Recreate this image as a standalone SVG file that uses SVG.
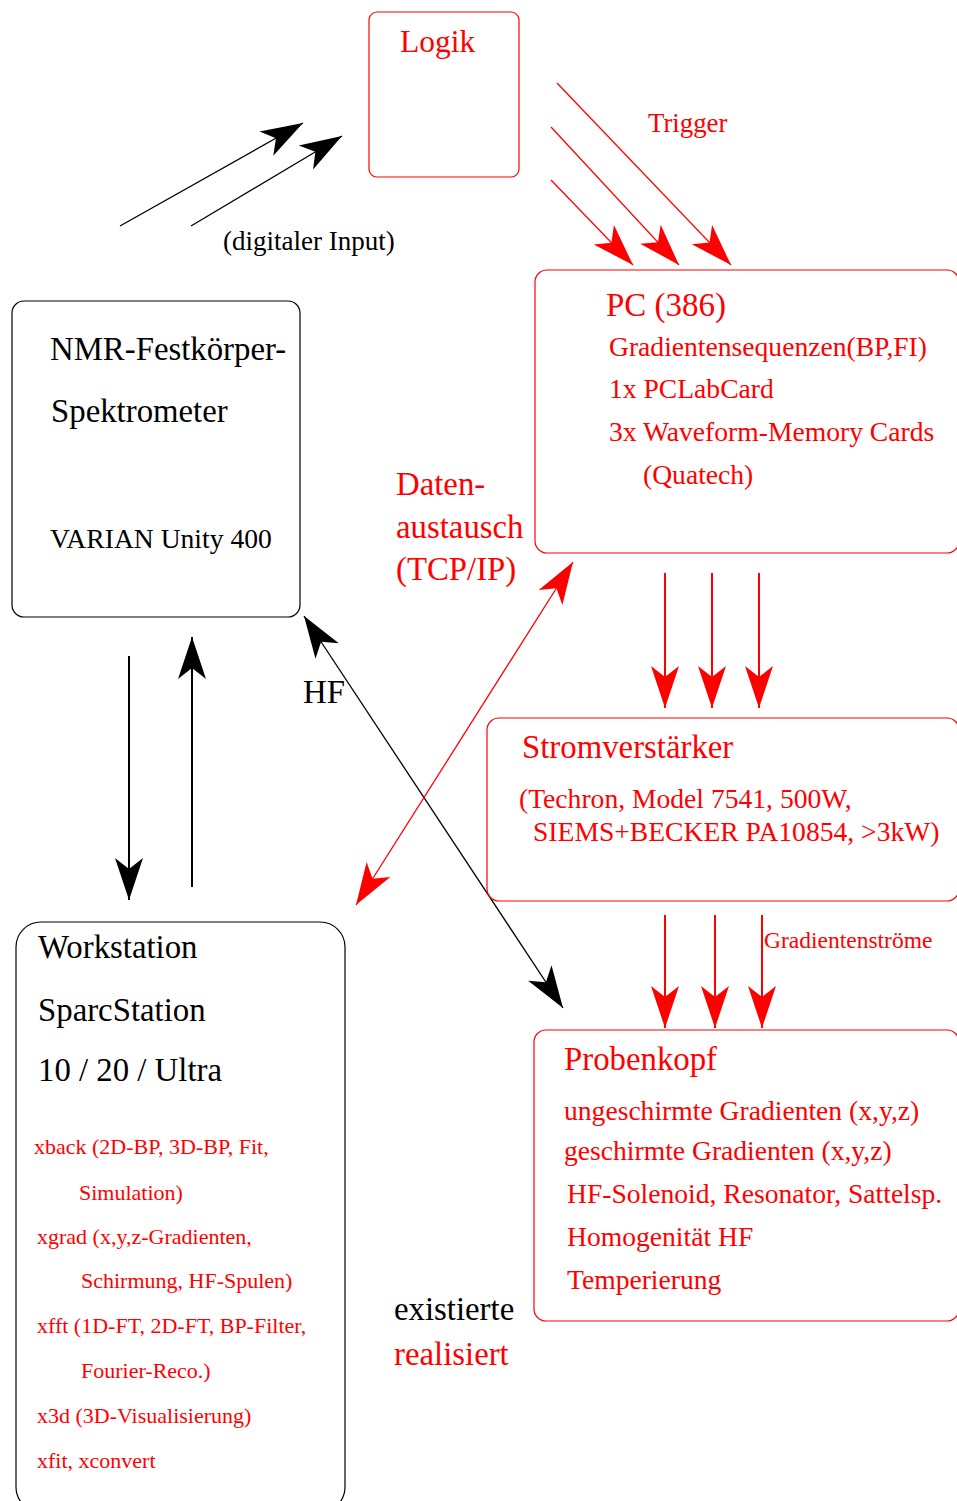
<svg xmlns="http://www.w3.org/2000/svg" width="957" height="1501" viewBox="0 0 957 1501">
<style>
text{font-family:"Liberation Serif","Times New Roman",serif}
.r{fill:#ff0000}
.k{fill:#000}
.t32{font-size:32.8px}
.t27{font-size:27.6px}
.t22{font-size:22px}
.bk{fill:none;stroke:#000;stroke-width:1.2}
.br{fill:none;stroke:#ff0000;stroke-width:1.2}
.lk{stroke:#000;stroke-width:1.3;fill:none}
.lr{stroke:#ff0000;stroke-width:1.3;fill:none}
.vk{stroke:#000;stroke-width:2;fill:none}
.vr{stroke:#ff0000;stroke-width:2;fill:none}
</style>
<defs>
<marker id="ak" markerUnits="userSpaceOnUse" markerWidth="50" markerHeight="40" viewBox="-45 -20 50 40" refX="0" refY="0" orient="auto-start-reverse">
<path d="M0,0 L-42,-14 L-31,0 L-42,14 Z" fill="#000"/>
</marker>
<marker id="ar" markerUnits="userSpaceOnUse" markerWidth="50" markerHeight="40" viewBox="-45 -20 50 40" refX="0" refY="0" orient="auto-start-reverse">
<path d="M0,0 L-42,-14 L-31,0 L-42,14 Z" fill="#ff0000"/>
</marker>
</defs>

<g id="connectors">
<line class="lk" x1="120" y1="226" x2="303" y2="123" marker-end="url(#ak)"/>
<line class="lk" x1="191" y1="226" x2="342" y2="136" marker-end="url(#ak)"/>
<line class="lr" x1="557" y1="83" x2="731" y2="265" marker-end="url(#ar)"/>
<line class="lr" x1="551" y1="127" x2="679" y2="265" marker-end="url(#ar)"/>
<line class="lr" x1="551" y1="180" x2="633" y2="265" marker-end="url(#ar)"/>
<line class="vk" x1="129" y1="656" x2="129" y2="900" marker-end="url(#ak)"/>
<line class="vk" x1="192" y1="887" x2="192" y2="637" marker-end="url(#ak)"/>
<line class="lk" x1="304" y1="616" x2="563" y2="1008" marker-start="url(#ak)" marker-end="url(#ak)"/>
<line class="lr" x1="573" y1="562" x2="356" y2="905" marker-start="url(#ar)" marker-end="url(#ar)"/>
<line class="vr" x1="665" y1="573" x2="665" y2="708" marker-end="url(#ar)"/>
<line class="vr" x1="712" y1="573" x2="712" y2="708" marker-end="url(#ar)"/>
<line class="vr" x1="759" y1="573" x2="759" y2="708" marker-end="url(#ar)"/>
<line class="vr" x1="665" y1="915" x2="665" y2="1028" marker-end="url(#ar)"/>
<line class="vr" x1="715" y1="915" x2="715" y2="1028" marker-end="url(#ar)"/>
<line class="vr" x1="762" y1="915" x2="762" y2="1028" marker-end="url(#ar)"/>
<text class="r" x="648" y="132" font-size="26.8">Trigger</text>
<text class="k" x="223" y="250" font-size="27">(digitaler Input)</text>
<text class="r t32" x="396" y="495">Daten-</text>
<text class="r t32" x="396" y="538">austausch</text>
<text class="r t32" x="396" y="580">(TCP/IP)</text>
<text class="k t32" x="303" y="703">HF</text>
<text class="r" x="764" y="948" font-size="23.5">Gradientenströme</text>
</g>

<g id="logik">
<rect class="br" x="369" y="12" width="150" height="165" rx="8"/>
<text class="r" x="400" y="52" font-size="31.5">Logik</text>
</g>

<g id="pc">
<rect class="br" x="535" y="270" width="424" height="283" rx="12"/>
<text class="r" x="606" y="316" font-size="33">PC (386)</text>
<text class="r t27" x="609" y="356">Gradientensequenzen(BP,FI)</text>
<text class="r t27" x="609" y="398">1x PCLabCard</text>
<text class="r t27" x="609" y="441">3x Waveform-Memory Cards</text>
<text class="r t27" x="643" y="484">(Quatech)</text>
</g>

<g id="nmr">
<rect class="bk" x="12" y="301" width="288" height="316" rx="12"/>
<text class="k t32" x="50" y="360">NMR-Festkörper-</text>
<text class="k t32" x="51" y="422">Spektrometer</text>
<text class="k t27" x="50" y="548">VARIAN Unity 400</text>
</g>

<g id="stromverstaerker">
<rect class="br" x="487" y="718" width="472" height="183" rx="12"/>
<text class="r t32" x="522" y="758">Stromverstärker</text>
<text class="r t27" x="519" y="808">(Techron, Model 7541, 500W,</text>
<text class="r t27" x="533" y="841">SIEMS+BECKER PA10854, &gt;3kW)</text>
</g>

<g id="probenkopf">
<rect class="br" x="534" y="1030" width="425" height="291" rx="12"/>
<text class="r t32" x="564" y="1070">Probenkopf</text>
<text class="r t27" x="564" y="1120">ungeschirmte Gradienten (x,y,z)</text>
<text class="r t27" x="564" y="1160">geschirmte Gradienten (x,y,z)</text>
<text class="r t27" x="567" y="1203">HF-Solenoid, Resonator, Sattelsp.</text>
<text class="r t27" x="567" y="1246">Homogenität HF</text>
<text class="r t27" x="567" y="1289">Temperierung</text>
</g>

<g id="workstation">
<rect class="bk" x="16" y="922" width="329" height="590" rx="25"/>
<text class="k t32" x="38" y="958">Workstation</text>
<text class="k t32" x="38" y="1021">SparcStation</text>
<text class="k t32" x="38" y="1081">10 / 20 / Ultra</text>
<text class="r t22" x="34" y="1154">xback (2D-BP, 3D-BP, Fit,</text>
<text class="r t22" x="79" y="1200">Simulation)</text>
<text class="r t22" x="37" y="1244">xgrad (x,y,z-Gradienten,</text>
<text class="r t22" x="81" y="1288">Schirmung, HF-Spulen)</text>
<text class="r t22" x="37" y="1333">xfft (1D-FT, 2D-FT, BP-Filter,</text>
<text class="r t22" x="81" y="1378">Fourier-Reco.)</text>
<text class="r t22" x="37" y="1423">x3d (3D-Visualisierung)</text>
<text class="r t22" x="37" y="1468">xfit, xconvert</text>
</g>

<g id="legend">
<text class="k t32" x="394" y="1320">existierte</text>
<text class="r t32" x="394" y="1365">realisiert</text>
</g>
</svg>
